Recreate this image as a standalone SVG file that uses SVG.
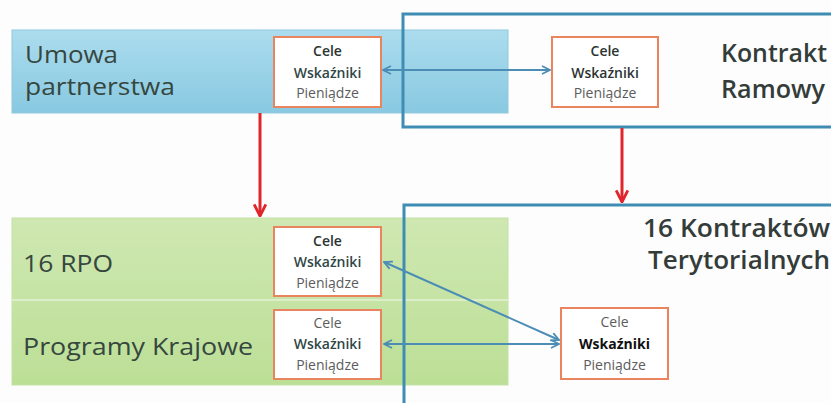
<svg xmlns="http://www.w3.org/2000/svg" width="831" height="403" viewBox="0 0 831 403">
<defs>
<linearGradient id="gBlue" x1="0" y1="0" x2="0" y2="1"><stop offset="0" stop-color="#acdcee"/><stop offset="1" stop-color="#88c9e1"/></linearGradient>
<linearGradient id="gGreen" x1="0" y1="0" x2="0" y2="1"><stop offset="0" stop-color="#cfe8b2"/><stop offset="1" stop-color="#bcdf96"/></linearGradient>
<marker id="mBlue" viewBox="0 0 10 10" refX="9" refY="5" markerWidth="10" markerHeight="10" markerUnits="userSpaceOnUse" orient="auto-start-reverse"><path d="M1,1 L9,5 L1,9" fill="none" stroke="#4b8db5" stroke-width="1.8"/></marker>
<marker id="mRed" viewBox="0 0 12 12" refX="11" refY="6" markerWidth="14" markerHeight="14" markerUnits="userSpaceOnUse" orient="auto"><path d="M1,1 L11,6 L1,11" fill="none" stroke="#e0262a" stroke-width="2.4"/></marker>
<style>
.band{font-family:"Open Sans","Liberation Sans",sans-serif;font-size:24px;fill:#36473f}
.title{font-family:"Open Sans","Liberation Sans",sans-serif;font-size:25px;font-weight:600;fill:#333c39}
.box{fill:#ffffff;stroke:#e9845f;stroke-width:2}
.bt{font-family:"Open Sans","Liberation Sans",sans-serif;font-size:14px;text-anchor:middle}
.b1{font-weight:600;fill:#2c3432}
.b2{font-weight:600;fill:#2f4745}
.b3{fill:#5c5c5c}
.frame{fill:none;stroke:#3f8db4;stroke-width:3}
.blue{stroke:#4b8db5;stroke-width:2;fill:none;marker-start:url(#mBlue);marker-end:url(#mBlue)}
.red{stroke:#e0262a;stroke-width:3;fill:none;marker-end:url(#mRed)}
</style>
</defs>
<rect width="831" height="403" fill="#fdfdfd"/>

<g id="umowa">
<rect x="12" y="30" width="496" height="83" fill="url(#gBlue)" stroke="#90c8dc" stroke-width="1"/>
<text class="band" x="25" y="63" textLength="93" lengthAdjust="spacingAndGlyphs">Umowa</text>
<text class="band" x="25" y="95" textLength="150" lengthAdjust="spacingAndGlyphs">partnerstwa</text>
</g>

<g id="programy">
<rect x="12" y="218" width="496" height="167" fill="url(#gGreen)" stroke="#c4e2a4" stroke-width="1"/>
<line x1="12" y1="300" x2="508" y2="300" stroke="#dcedc9" stroke-width="2"/>
<text class="band" x="23" y="272" textLength="90" lengthAdjust="spacingAndGlyphs">16 RPO</text>
<text class="band" x="23" y="355" textLength="230" lengthAdjust="spacingAndGlyphs">Programy Krajowe</text>
</g>

<g id="kontrakt-ramowy">
<rect class="frame" x="403" y="14" width="440" height="113"/>
<text class="title" x="721" y="62" textLength="106" lengthAdjust="spacingAndGlyphs">Kontrakt</text>
<text class="title" x="721" y="98" textLength="104" lengthAdjust="spacingAndGlyphs">Ramowy</text>
</g>

<g id="kontrakty-terytorialne">
<rect class="frame" x="404" y="205" width="440" height="220"/>
<text class="title" x="643" y="237" textLength="187" lengthAdjust="spacingAndGlyphs">16 Kontraktów</text>
<text class="title" x="648" y="269" textLength="182" lengthAdjust="spacingAndGlyphs">Terytorialnych</text>
</g>

<g id="box-umowa">
<rect class="box" x="274" y="37" width="107" height="70"/>
<text class="bt b1" x="327.5" y="56">Cele</text>
<text class="bt b2" x="327.5" y="78">Wskaźniki</text>
<text class="bt b3" x="327.5" y="98">Pieniądze</text>
</g>

<g id="box-ramowy">
<rect class="box" x="552" y="37" width="106" height="70"/>
<text class="bt b1" x="605" y="56">Cele</text>
<text class="bt b1" x="605" y="78">Wskaźniki</text>
<text class="bt b3" x="605" y="98">Pieniądze</text>
</g>

<g id="box-rpo">
<rect class="box" x="274" y="227" width="107" height="69"/>
<text class="bt b1" x="327.5" y="246">Cele</text>
<text class="bt b2" x="327.5" y="267">Wskaźniki</text>
<text class="bt b3" x="327.5" y="288">Pieniądze</text>
</g>

<g id="box-krajowe">
<rect class="box" x="274" y="310" width="107" height="69"/>
<text class="bt b3" x="327.5" y="328">Cele</text>
<text class="bt b2" x="327.5" y="349">Wskaźniki</text>
<text class="bt b3" x="327.5" y="370">Pieniądze</text>
</g>

<g id="box-terytorialne">
<rect class="box" x="561" y="308" width="107" height="71"/>
<text class="bt b3" x="614.5" y="327">Cele</text>
<text class="bt" x="614.5" y="349" style="font-weight:700;fill:#111">Wskaźniki</text>
<text class="bt b3" x="614.5" y="370">Pieniądze</text>
</g>

<g id="connectors">
<line class="red" x1="260" y1="113" x2="260" y2="216"/>
<line class="red" x1="622" y1="128" x2="622" y2="202"/>
<line class="blue" x1="383" y1="70" x2="550" y2="70"/>
<line class="blue" x1="384" y1="262" x2="559" y2="340"/>
<line class="blue" x1="384" y1="344" x2="559" y2="344"/>
</g>
</svg>
